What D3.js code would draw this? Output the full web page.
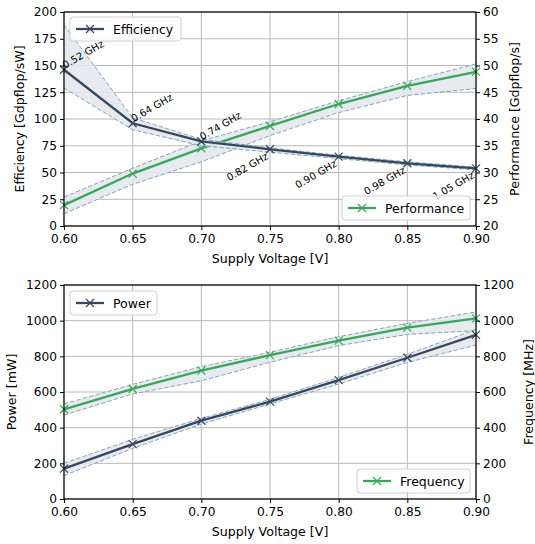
<!DOCTYPE html>
<html><head><meta charset="utf-8">
<script src="https://cdn.jsdelivr.net/npm/d3@7"></script>
<style>body{margin:0;background:#fff}svg{font-family:"DejaVu Sans",sans-serif}</style>
</head><body><svg id="c" width="535" height="544"></svg>
<script>
const voltage = [0.60, 0.65, 0.70, 0.75, 0.80, 0.85, 0.90];
const freqLabels = ["0.52 GHz","0.64 GHz","0.74 GHz","0.82 GHz","0.90 GHz","0.98 GHz","1.05 GHz"];
const efficiency      = [146, 96, 79, 71.7, 64.8, 58.6, 53.9];
const efficiencyHigh  = [188, 101, 81, 73, 66, 60, 55];
const efficiencyLow   = [129, 90, 75, 69, 63, 57, 52.5];
const performance     = [23.9, 29.8, 34.5, 38.7, 42.8, 46.2, 48.8];
const performanceHigh = [25.4, 30.8, 35.9, 39.5, 43.4, 47.0, 50.3];
const performanceLow  = [22.3, 27.8, 32.0, 36.9, 41.2, 44.4, 45.7];
const power     = [170, 308, 439, 546, 667, 792, 920];
const powerHigh = [200, 335, 452, 559, 682, 811, 951];
const powerLow  = [131, 284, 420, 533, 645, 766, 863];
const frequency     = [503, 617, 720, 807, 888, 961, 1013];
const frequencyHigh = [533, 643, 742, 823, 910, 985, 1049];
const frequencyLow  = [471, 589, 663, 767, 860, 923, 944];
const xTicks = [0.60,0.65,0.70,0.75,0.80,0.85,0.90];
const effTicks = [0,25,50,75,100,125,150,175,200];
const perfTicks = [20,25,30,35,40,45,50,55,60];
const mwTicks = [0,200,400,600,800,1000,1200];

const DARK = "#34495e", GREEN = "#3ba55c", BANDEDGE = "#8aa3ba", BANDFILL = "#e4e9ed";
const svg = d3.select("#c");
const L = 64, R = 476;

function panel(top, bottom, yLdom, yRdom, yLticks, yRticks, yLlabel, yRlabel, lx, rx) {
  const g = svg.append("g");
  const x = d3.scaleLinear().domain([0.6, 0.9]).range([L, R]);
  const yL = d3.scaleLinear().domain(yLdom).range([bottom, top]);
  const yR = d3.scaleLinear().domain(yRdom).range([bottom, top]);
  g.append("g").selectAll("line").data(xTicks).join("line")
    .attr("x1", d => x(d)).attr("x2", d => x(d)).attr("y1", top).attr("y2", bottom)
    .attr("stroke", "#b8b8b8").attr("stroke-width", 1);
  g.append("g").selectAll("line").data(yLticks).join("line")
    .attr("y1", d => yL(d)).attr("y2", d => yL(d)).attr("x1", L).attr("x2", R)
    .attr("stroke", "#b8b8b8").attr("stroke-width", 1);
  const content = g.append("g");
  const ax = g.append("g").attr("transform", `translate(0,${bottom})`)
    .call(d3.axisBottom(x).tickValues(xTicks).tickFormat(d3.format(".2f")).tickSize(4).tickPadding(4));
  const al = g.append("g").attr("transform", `translate(${L},0)`)
    .call(d3.axisLeft(yL).tickValues(yLticks).tickFormat(d3.format("d")).tickSize(4).tickPadding(3));
  const ar = g.append("g").attr("transform", `translate(${R},0)`)
    .call(d3.axisRight(yR).tickValues(yRticks).tickFormat(d3.format("d")).tickSize(4).tickPadding(3));
  [ax, al, ar].forEach(a => {
    a.select(".domain").remove();
    a.selectAll("text").attr("font-size", 12.2).attr("fill", "#000").attr("font-family", "DejaVu Sans");
    a.selectAll("line").attr("stroke", "#000");
  });
  g.append("rect").attr("x", L).attr("y", top).attr("width", R - L).attr("height", bottom - top)
    .attr("fill", "none").attr("stroke", "#000").attr("stroke-width", 1.2);
  g.append("text").attr("x", (L + R) / 2).attr("y", bottom + 37).attr("text-anchor", "middle")
    .attr("font-size", 12.6).text("Supply Voltage [V]");
  g.append("text").attr("transform", `translate(${lx},${(top + bottom) / 2}) rotate(-90)`)
    .attr("text-anchor", "middle").attr("dominant-baseline", "central").attr("font-size", 12.6).text(yLlabel);
  g.append("text").attr("transform", `translate(${rx},${(top + bottom) / 2}) rotate(-90)`)
    .attr("text-anchor", "middle").attr("dominant-baseline", "central").attr("font-size", 12.6).text(yRlabel);
  return {x, yL, yR, content};
}

function series(p, y, vals, hi, lo, color) {
  const c = p.content;
  const area = d3.area().x((d, i) => p.x(voltage[i])).y0((d, i) => y(lo[i])).y1((d, i) => y(hi[i]));
  c.append("path").datum(vals).attr("d", area).attr("fill", BANDFILL).attr("fill-opacity", 0.9);
  const line = d3.line().x((d, i) => p.x(voltage[i])).y(d => y(d));
  [hi, lo].forEach(b => c.append("path").datum(b).attr("d", line).attr("fill", "none")
    .attr("stroke", BANDEDGE).attr("stroke-width", 1).attr("stroke-dasharray", "4.5,2"));
  c.append("path").datum(vals).attr("d", line).attr("fill", "none").attr("stroke", color).attr("stroke-width", 2.3);
  vals.forEach((v, i) => marker(c, p.x(voltage[i]), y(v), color));
}

function marker(c, cx, cy, color) {
  const s = 4;
  c.append("path").attr("d", `M${cx - s},${cy - s}L${cx + s},${cy + s}M${cx - s},${cy + s}L${cx + s},${cy - s}`)
    .attr("stroke", color).attr("stroke-width", 1.2).attr("fill", "none");
}

function legend(x0, y0, w, label, color) {
  const g = svg.append("g");
  g.append("rect").attr("x", x0).attr("y", y0).attr("width", w).attr("height", 24).attr("rx", 3)
    .attr("fill", "#fff").attr("fill-opacity", 0.85).attr("stroke", "#d0d0d0");
  g.append("line").attr("x1", x0 + 6).attr("x2", x0 + 34).attr("y1", y0 + 12).attr("y2", y0 + 12)
    .attr("stroke", color).attr("stroke-width", 2.3);
  marker(g, x0 + 20, y0 + 12, color);
  g.append("text").attr("x", x0 + 43).attr("y", y0 + 16.5).attr("font-size", 12.5).text(label);
}

const p1 = panel(12, 226, [0, 200], [20, 60], effTicks, perfTicks, "Efficiency [Gdpflop/sW]", "Performance [Gdpflop/s]", 19, 514);
series(p1, p1.yR, performance, performanceHigh, performanceLow, GREEN);
series(p1, p1.yL, efficiency, efficiencyHigh, efficiencyLow, DARK);
freqLabels.forEach((t, i) => {
  const px = p1.x(voltage[i]), py = p1.yL(efficiency[i]);
  const txt = p1.content.append("text").attr("font-size", 10).attr("fill", "#000").text(t);
  if (i < 3) txt.attr("text-anchor", "start").attr("transform", `translate(${px + 1},${py - 1}) rotate(-30)`);
  else txt.attr("text-anchor", "end").attr("transform", `translate(${px - 1},${py + 9}) rotate(-30)`);
});
legend(70, 17, 111, "Efficiency", DARK);
legend(342, 196, 128, "Performance", GREEN);

const p2 = panel(285, 499, [0, 1200], [0, 1200], mwTicks, mwTicks, "Power [mW]", "Frequency [MHz]", 11, 528);
series(p2, p2.yR, frequency, frequencyHigh, frequencyLow, GREEN);
series(p2, p2.yL, power, powerHigh, powerLow, DARK);
legend(70, 291, 87, "Power", DARK);
legend(357, 469, 113, "Frequency", GREEN);
</script></body></html>
